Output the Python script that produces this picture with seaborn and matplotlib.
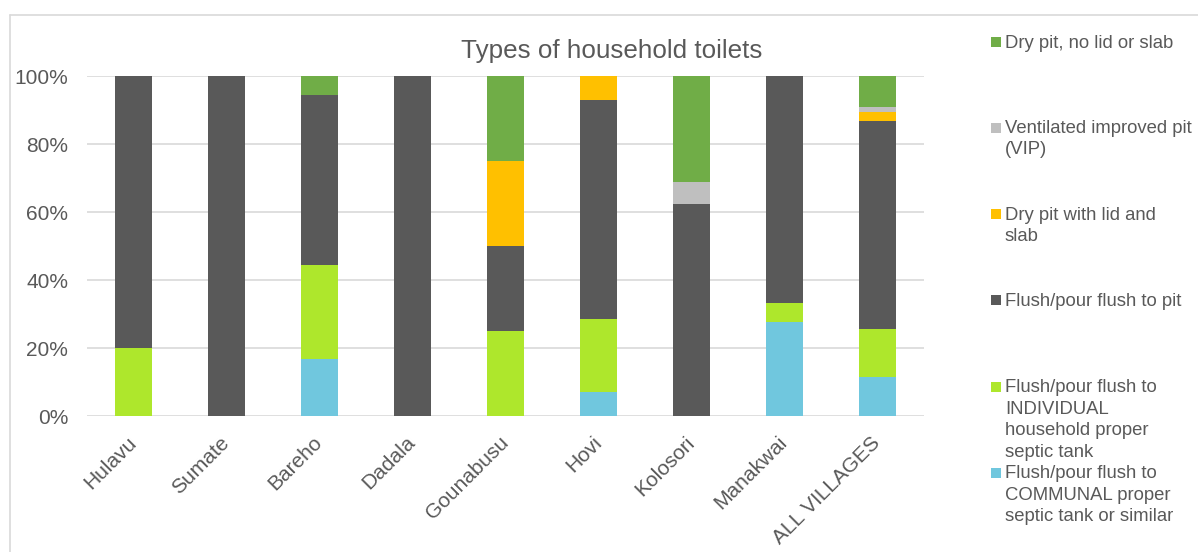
import matplotlib
matplotlib.use("Agg")
import matplotlib.pyplot as plt
import seaborn as sns
import numpy as np
from matplotlib.lines import Line2D
from matplotlib.patches import Rectangle

villages = ["Hulavu", "Sumate", "Bareho", "Dadala", "Gounabusu", "Hovi",
            "Kolosori", "Manakwai", "ALL VILLAGES"]
communal = [0, 0, 16.67, 0, 0, 7.14, 0, 27.78, 11.4]
individual = [20, 0, 27.78, 0, 25, 21.43, 0, 5.56, 14.1]
flush_pit = [80, 100, 50, 100, 25, 64.29, 62.5, 66.66, 61.4]
dry_lid = [0, 0, 0, 0, 25, 7.14, 0, 0, 2.6]
vip = [0, 0, 0, 0, 0, 0, 6.25, 0, 1.4]
dry_nolid = [0, 0, 5.55, 0, 25, 0, 31.25, 0, 9.1]

series_labels = [
    "Flush/pour flush to\nCOMMUNAL proper\nseptic tank or similar",
    "Flush/pour flush to\nINDIVIDUAL\nhousehold proper\nseptic tank",
    "Flush/pour flush to pit",
    "Dry pit with lid and\nslab",
    "Ventilated improved pit\n(VIP)",
    "Dry pit, no lid or slab",
]
series_values = [communal, individual, flush_pit, dry_lid, vip, dry_nolid]
series_colors = ["#70C7DE", "#AEE72C", "#595959", "#FFC000", "#BFBFBF", "#70AD47"]
yticks = [0, 20, 40, 60, 80, 100]
title = "Types of household toilets"

sns.set_theme(style="white")
plt.rcParams['font.family'] = ['Liberation Sans', 'DejaVu Sans']
TXT = "#595959"

W, H = 1198, 552
fig = plt.figure(figsize=(W / 100, H / 100), dpi=100)
ax = fig.add_axes([87 / W, (H - 416) / H, (924 - 87) / W, (416 - 76) / H])

cum = np.cumsum(np.array(series_values, dtype=float), axis=0)
for i in range(len(series_values) - 1, -1, -1):
    sns.barplot(x=villages, y=np.minimum(cum[i], 100), color=series_colors[i],
                saturation=1, width=0.4, ax=ax, linewidth=0, zorder=3)

ax.set_ylim(0, 100)
ax.set_xlim(-0.5, len(villages) - 0.5)
ax.set_yticks(yticks)
ax.set_yticklabels([f"{v}%" for v in yticks], fontsize=15, color=TXT)
ax.set_xticks(range(len(villages)))
ax.set_xticklabels(villages, fontsize=15, color=TXT, rotation=45,
                   ha="right", va="center", rotation_mode="anchor")
ax.tick_params(axis="y", length=0, pad=13.5)
ax.tick_params(axis="x", length=0, pad=17)
ax.set_xlabel("")
ax.set_ylabel("")
ax.grid(axis="y", color="#D9D9D9", linewidth=1.2, zorder=0)
ax.set_axisbelow(True)
for s in ax.spines.values():
    s.set_visible(False)

fig.text(612 / W, 1 - 51 / H, title, fontsize=18.7, color=TXT,
         ha="center", va="center")

# chart border
fig.add_artist(Line2D([10 / W, 10 / W], [0, 1 - 15 / H], color="#D9D9D9",
                      linewidth=1.2, transform=fig.transFigure))
fig.add_artist(Line2D([10 / W, 1], [1 - 15 / H, 1 - 15 / H], color="#D9D9D9",
                      linewidth=1.2, transform=fig.transFigure))

# legend (top entry = last series)
centers = [42, 127.5, 214, 300, 387, 473]
for k, yc in enumerate(centers):
    i = len(series_labels) - 1 - k
    fig.add_artist(Rectangle((991 / W, 1 - (yc + 5) / H), 10 / W, 10 / H,
                             facecolor=series_colors[i], edgecolor="none",
                             transform=fig.transFigure))
    fig.text(1005 / W, 1 - (yc - 7.5) / H, series_labels[i], fontsize=13.3,
             color=TXT, ha="left", va="top", linespacing=1.34)

fig.savefig("out.png", dpi=100)
